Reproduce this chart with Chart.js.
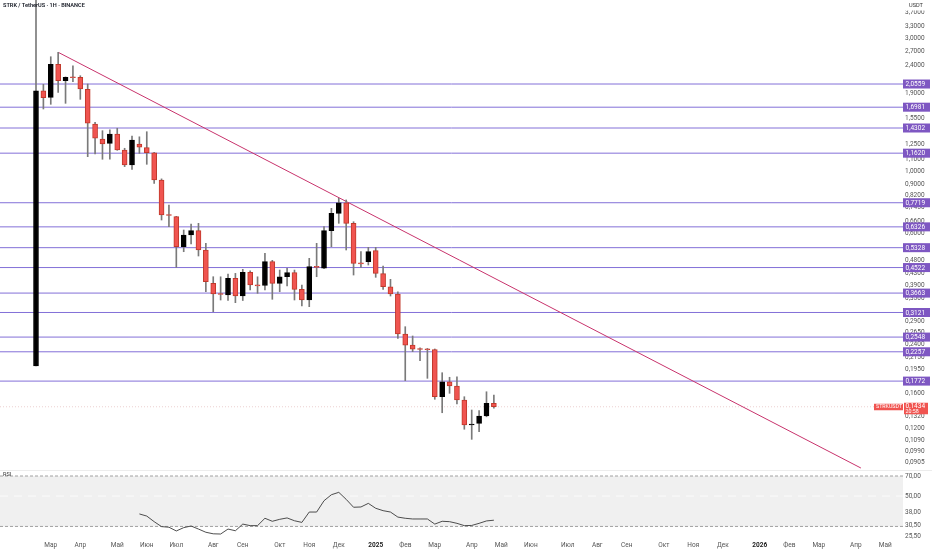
<!DOCTYPE html>
<html lang="ru">
<head>
<meta charset="utf-8">
<title>STRK / TetherUS</title>
<script src="https://cdn.jsdelivr.net/npm/chart.js@4.4.1/dist/chart.umd.min.js"></script>
<style>
    html, body { margin: 0; padding: 0; background: #fff; }
    #wrap { position: relative; width: 932px; height: 550px; overflow: hidden; }
    #priceChart { position: absolute; left: 0; top: 0; }
    #rsiChart { position: absolute; left: 0; top: 470px; }
</style>
</head>
<body>
<div id="wrap">
    <canvas id="priceChart" width="932" height="470"></canvas>
    <canvas id="rsiChart" width="932" height="80"></canvas>
</div>
<script>
// --- DATOS (velas semanales, índice 0 = semana del 19 feb 2024) ---
const opens  = [0.2007, 1.945, 1.842, 2.419, 2.113, 2.173, 2.173, 1.966, 1.478, 1.306,
                1.260, 1.361, 1.193, 1.054, 1.253, 1.216, 1.166, 0.931, 0.700, 0.6883,
                0.537, 0.5915, 0.6129, 0.5227, 0.3971, 0.3635, 0.3605, 0.4138, 0.3576, 0.4348,
                0.3916, 0.390, 0.4746, 0.397, 0.4193, 0.4334, 0.3779, 0.346, 0.4554, 0.450,
                0.6129, 0.7075, 0.7721, 0.6514, 0.4683, 0.4746, 0.520, 0.430, 0.386, 0.3635,
                0.2613, 0.2386, 0.2304, 0.230, 0.230, 0.1558, 0.1763, 0.170, 0.1516, 0.1234,
                0.1251, 0.1329, 0.1475];
const highs  = [4.600, 2.050, 2.575, 2.671, 2.180, 2.391, 2.202, 2.056, 1.500, 1.399,
                1.410, 1.427, 1.210, 1.339, 1.330, 1.387, 1.170, 0.940, 0.7577, 0.690,
                0.6164, 0.6477, 0.6514, 0.5524, 0.4193, 0.419, 0.4288, 0.431, 0.4457, 0.440,
                0.419, 0.5086, 0.480, 0.4431, 0.4493, 0.443, 0.3916, 0.488, 0.5524, 0.6335,
                0.7373, 0.8007, 0.790, 0.660, 0.5154, 0.5344, 0.5344, 0.458, 0.4104, 0.3705,
                0.2776, 0.2571, 0.233, 0.232, 0.231, 0.1899, 0.1829, 0.1835, 0.1558, 0.1396,
                0.139, 0.1623, 0.158];
const lows   = [0.2007, 1.673, 1.739, 1.920, 1.753, 2.096, 1.812, 1.129, 1.154, 1.105,
                1.105, 1.190, 1.040, 1.017, 1.160, 1.060, 0.906, 0.6694, 0.6335, 0.4531,
                0.5154, 0.5492, 0.4974, 0.3705, 0.3142, 0.346, 0.3445, 0.3384, 0.3445, 0.3757,
                0.3656, 0.3757, 0.348, 0.3705, 0.3884, 0.346, 0.3293, 0.3275, 0.4193, 0.448,
                0.5371, 0.6514, 0.5227, 0.4252, 0.4531, 0.4618, 0.4172, 0.3779, 0.3576, 0.2522,
                0.1778, 0.2259, 0.2097, 0.1813, 0.1525, 0.1365, 0.1602, 0.1467, 0.1191, 0.1096,
                0.1167, 0.132, 0.1416];
const closes = [1.945, 1.836, 2.419, 2.113, 2.173, 2.165, 1.973, 1.487, 1.314, 1.253,
                1.361, 1.193, 1.054, 1.295, 1.220, 1.166, 0.931, 0.6976, 0.695, 0.5371,
                0.5915, 0.6129, 0.5227, 0.4024, 0.3635, 0.362, 0.4138, 0.3576, 0.4348, 0.3916,
                0.389, 0.4746, 0.397, 0.4193, 0.4334, 0.3779, 0.346, 0.4554, 0.453, 0.6129,
                0.7075, 0.7721, 0.6514, 0.4683, 0.466, 0.5154, 0.4312, 0.3864, 0.3635, 0.2613,
                0.2386, 0.2304, 0.230, 0.2295, 0.1558, 0.1763, 0.1702, 0.1516, 0.1234, 0.1238,
                0.1329, 0.1475, 0.1434];

// RSI(14): primer valor en la vela 14
const rsiStart = 14;
const rsiValues = [37.0, 35.7, 32.5, 29.9, 29.6, 27.8, 29.4, 30.2, 28.7, 27.2,
                   26.5, 26.4, 28.7, 27.9, 31.2, 30.4, 30.4, 34.4, 32.7, 33.8,
                   34.6, 33.0, 32.1, 38.2, 38.2, 46.2, 51.1, 53.2, 47.3, 41.4,
                   41.6, 44.2, 40.7, 39.1, 38.2, 35.1, 34.4, 34.0, 34.0, 34.0,
                   31.2, 32.7, 32.5, 31.6, 30.4, 30.5, 31.6, 32.9, 33.3];

// Niveles horizontales y línea de tendencia
const levels = [2.0559, 1.6981, 1.4302, 1.1620, 0.7719, 0.6326, 0.5328,
                0.4522, 0.3663, 0.3121, 0.2548, 0.2257, 0.1772];
const trendWeeks = [3, 111.7];
const trendPrices = [2.671, 0.0865];
const lastPrice = 0.1434;

// Etiquetas de los ejes
const priceTicks = [3.7, 3.3, 3.0, 2.7, 2.4, 1.9, 1.55, 1.25, 1.1, 1.0, 0.9, 0.82, 0.745,
                    0.66, 0.6, 0.48, 0.43, 0.39, 0.35, 0.29, 0.265, 0.24, 0.215, 0.195,
                    0.16, 0.132, 0.12, 0.109, 0.099, 0.0905];
const rsiTicks = [70, 50, 38, 30.5, 25.5];
const monthTickWeeks = [2, 6, 11, 15, 19, 24, 28, 33, 37, 41, 46, 50, 54, 59,
                        63, 67, 72, 76, 80, 85, 89, 93, 98, 102, 106, 111, 115];
const monthTickLabels = ['Мар', 'Апр', 'Май', 'Июн', 'Июл', 'Авг', 'Сен', 'Окт', 'Ноя', 'Дек',
                         '2025', 'Фев', 'Мар', 'Апр', 'Май', 'Июн', 'Июл', 'Авг', 'Сен', 'Окт',
                         'Ноя', 'Дек', '2026', 'Фев', 'Мар', 'Апр', 'Май'];

// --- VISTA ---
const xMin = -4.875, xMax = 117.4;
const priceMin = 0.0851, priceMax = 4.112;
const rsiMin = 23.88, rsiMax = 77.43;
const axisWidth = 29;

const upColor = '#000000';
const downColor = '#f05450';
const levelColor = '#8370d8';

Chart.defaults.font.family = 'Roboto, "Liberation Sans", sans-serif';
Chart.defaults.font.size = 6.5;
Chart.defaults.color = '#555';
Chart.defaults.animation = false;

const fmtPrice = v => v.toFixed(4).replace('.', ',');
const fmtRsi = v => v.toFixed(2).replace('.', ',');
const isUp = i => closes[i] >= opens[i];
const hline = v => [{ x: xMin, y: v }, { x: xMax, y: v }];

const fixRightAxis = scale => {
    scale.width = axisWidth;
    scale.paddingTop = 0;
    scale.paddingBottom = 0;
};

// --- DATASETS DEL GRÁFICO DE PRECIO ---
const wickData = opens.map((_, i) => ({ x: i, y: [lows[i], highs[i]] }));
const bodyData = opens.map((_, i) => ({ x: i, y: [Math.min(opens[i], closes[i]), Math.max(opens[i], closes[i])] }));

const priceDatasets = [
    {
        type: 'bar',
        data: bodyData,
        grouped: false,
        barThickness: 5,
        minBarLength: 1,
        borderWidth: 1,
        borderSkipped: false,
        backgroundColor: ctx => isUp(ctx.dataIndex) ? upColor : downColor,
        borderColor: ctx => isUp(ctx.dataIndex) ? upColor : '#c0392b',
        order: 1
    },
    {
        type: 'bar',
        data: wickData,
        grouped: false,
        barThickness: 1,
        backgroundColor: '#7a7a7a',
        order: 2
    },
    {
        type: 'line',
        data: trendWeeks.map((w, k) => ({ x: w, y: trendPrices[k] })),
        borderColor: '#c8336c',
        borderWidth: 1,
        pointRadius: 0,
        order: 3
    },
    {
        type: 'line',
        data: hline(lastPrice),
        borderColor: 'rgba(200, 120, 120, 0.35)',
        borderWidth: 1,
        borderDash: [1, 2],
        pointRadius: 0,
        order: 4
    }
].concat(levels.map(v => ({
    type: 'line',
    data: hline(v),
    borderColor: levelColor,
    borderWidth: 1,
    pointRadius: 0,
    order: 3
})));

// Etiquetas sobre el eje de precio (niveles, precio actual, título)
const priceOverlay = {
    id: 'priceOverlay',
    afterDraw(chart) {
        const { ctx, chartArea } = chart;
        const y = chart.scales.y;
        const right = chartArea.right;
        ctx.save();
        ctx.textBaseline = 'middle';
        ctx.textAlign = 'left';
        ctx.font = '6.5px Roboto, sans-serif';

        levels.forEach(v => {
            const py = y.getPixelForValue(v);
            ctx.fillStyle = '#7e57c2';
            ctx.fillRect(right, py - 4.5, 27, 9);
            ctx.fillStyle = '#ffffff';
            ctx.fillText(fmtPrice(v), right + 2.5, py + 0.5);
        });

        const pp = y.getPixelForValue(lastPrice);
        ctx.fillStyle = downColor;
        ctx.fillRect(right - 29, pp - 3, 29, 6.5);
        ctx.fillRect(right + 1, pp - 4, 24, 11.5);
        ctx.fillStyle = '#ffffff';
        ctx.font = '5.3px Roboto, sans-serif';
        ctx.fillText('STRKUSDT', right - 27, pp + 0.3);
        ctx.font = '6.5px Roboto, sans-serif';
        ctx.fillText(fmtPrice(lastPrice), right + 2.5, pp - 0.2);
        ctx.font = '5.3px Roboto, sans-serif';
        ctx.fillText('20:58', right + 2.5, pp + 5.2);

        ctx.fillStyle = '#ffffff';
        ctx.fillRect(right, 0, axisWidth, 10.5);
        ctx.fillStyle = '#333';
        ctx.font = '5.6px Roboto, sans-serif';
        ctx.fillText('USDT', right + 6, 6);

        ctx.fillStyle = '#131722';
        ctx.font = '600 5.6px Roboto, sans-serif';
        ctx.fillText('STRK / TetherUS · 1H · BINANCE', 3, 5.8);
        ctx.restore();
    }
};

new Chart(document.getElementById('priceChart'), {
    type: 'bar',
    data: { datasets: priceDatasets },
    options: {
        responsive: false,
        maintainAspectRatio: false,
        layout: { padding: 0 },
        plugins: { legend: { display: false }, tooltip: { enabled: false } },
        scales: {
            x: {
                type: 'linear',
                display: false,
                offset: false,
                bounds: 'data',
                min: xMin,
                max: xMax
            },
            y: {
                type: 'logarithmic',
                position: 'right',
                bounds: 'data',
                min: priceMin,
                max: priceMax,
                grid: { display: false, drawTicks: false },
                border: { display: false },
                ticks: { autoSkip: false, padding: 2, callback: v => fmtPrice(v) },
                afterBuildTicks: scale => { scale.ticks = priceTicks.map(v => ({ value: v })); },
                afterFit: fixRightAxis
            }
        }
    },
    plugins: [priceOverlay]
});

// --- GRÁFICO RSI ---
const rsiData = rsiValues.map((v, k) => ({ x: rsiStart + k, y: v }));

const rsiOverlay = {
    id: 'rsiOverlay',
    afterDraw(chart) {
        const { ctx } = chart;
        ctx.save();
        ctx.strokeStyle = '#ececec';
        ctx.lineWidth = 1;
        ctx.beginPath();
        ctx.moveTo(0, 0.5);
        ctx.lineTo(chart.width, 0.5);
        ctx.stroke();
        ctx.fillStyle = '#333';
        ctx.font = '5.6px Roboto, sans-serif';
        ctx.textBaseline = 'middle';
        ctx.fillText('RSI', 3, 5);
        ctx.restore();
    }
};

new Chart(document.getElementById('rsiChart'), {
    type: 'line',
    data: {
        datasets: [
            {
                data: hline(70),
                borderColor: '#a0a0a0',
                borderWidth: 1,
                borderDash: [3, 2],
                pointRadius: 0,
                fill: false,
                order: 3
            },
            {
                data: hline(30),
                borderColor: '#a0a0a0',
                borderWidth: 1,
                borderDash: [3, 2],
                pointRadius: 0,
                fill: '-1',
                backgroundColor: '#f0f0f0',
                order: 3
            },
            {
                data: hline(50),
                borderColor: '#fbfbfb',
                borderWidth: 1,
                borderDash: [8, 6],
                pointRadius: 0,
                fill: false,
                order: 2
            },
            {
                data: rsiData,
                borderColor: '#3a3a3a',
                borderWidth: 0.9,
                pointRadius: 0,
                tension: 0,
                fill: false,
                order: 1
            }
        ]
    },
    options: {
        responsive: false,
        maintainAspectRatio: false,
        layout: { padding: 0 },
        plugins: { legend: { display: false }, tooltip: { enabled: false } },
        scales: {
            x: {
                type: 'linear',
                offset: false,
                bounds: 'data',
                min: xMin,
                max: xMax,
                grid: { display: false, drawTicks: false },
                border: { display: false },
                ticks: {
                    autoSkip: false,
                    maxRotation: 0,
                    padding: 1,
                    callback: (v, i) => monthTickLabels[i],
                    font: ctx => ({
                        size: 6.5,
                        weight: /^\d{4}$/.test(ctx.tick && ctx.tick.label) ? 'bold' : 'normal'
                    }),
                    color: ctx => /^\d{4}$/.test(ctx.tick && ctx.tick.label) ? '#222' : '#555'
                },
                afterBuildTicks: scale => { scale.ticks = monthTickWeeks.map(v => ({ value: v })); },
                afterFit: scale => { scale.height = 10; scale.paddingLeft = 0; scale.paddingRight = 0; }
            },
            y: {
                type: 'logarithmic',
                position: 'right',
                bounds: 'data',
                min: rsiMin,
                max: rsiMax,
                grid: { display: false, drawTicks: false },
                border: { display: false },
                ticks: { autoSkip: false, padding: 2, callback: v => fmtRsi(v) },
                afterBuildTicks: scale => { scale.ticks = rsiTicks.map(v => ({ value: v })); },
                afterFit: fixRightAxis
            }
        }
    },
    plugins: [rsiOverlay]
});
</script>
</body>
</html>
